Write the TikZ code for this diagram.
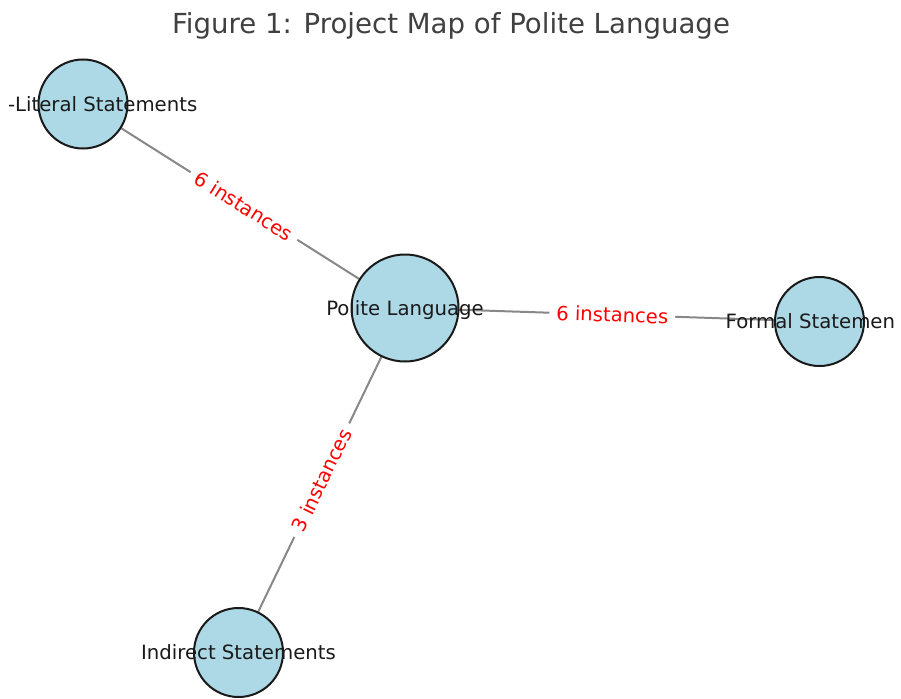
\documentclass[tikz,border=0pt]{standalone}
\usepackage{fontspec}
\setmainfont{DejaVu Sans}
\usetikzlibrary{backgrounds}
\definecolor{nodeblue}{HTML}{ADD8E6}
\definecolor{edgegray}{HTML}{888888}
\definecolor{titlegray}{HTML}{404040}
\definecolor{labelred}{HTML}{FF0000}
\definecolor{inkblack}{HTML}{1A1A1A}
\tikzset{
  topic/.style={circle, draw=inkblack, line width=2pt, fill=nodeblue, inner sep=0pt},
  bigtopic/.style={topic, minimum size=107pt},
  smalltopic/.style={topic, minimum size=89pt},
  nodetext/.style={font=\fontsize{19.7}{23}\selectfont, text=inkblack, inner sep=0pt, text height=14.4pt, text depth=0pt},
  link/.style={draw=edgegray, line width=2pt},
  countlabel/.style={font=\fontsize{19.6}{23}\selectfont, text=labelred, fill=white, inner xsep=7pt, inner ysep=5pt, text height=14.4pt, text depth=0pt, sloped, pos=0.5},
  titletext/.style={font=\fontsize{27.6}{32}\selectfont, text=titlegray, inner sep=0pt, anchor=base},
}
\begin{document}
\begin{tikzpicture}[x=1pt,y=-1pt]
\useasboundingbox (0,0) rectangle (901,698);
\clip (0,0) rectangle (901,698);
\node[titletext] (title) at (451,34) {Figure 1: Project Map of Polite Language};
\node[bigtopic] (polite) at (405,308) {};
\node[smalltopic] (nonliteral) at (83,104) {};
\node[smalltopic] (formal) at (819.5,321.5) {};
\node[smalltopic] (indirect) at (238.5,652.5) {};
\begin{pgfonlayer}{background}
\fill[white] (0,0) rectangle (901,698);
\draw[link] (nonliteral.center) -- node[countlabel] (l1) {6 instances} (polite.center);
\draw[link] (polite.center) -- node[countlabel] (l2) {6 instances} (formal.center);
\draw[link] (indirect.center) -- node[countlabel] (l3) {3 instances} (polite.center);
\end{pgfonlayer}
\node[nodetext] (politetext) at (405,308) {Polite Language};
\node[nodetext, anchor=east] (nonliteraltext) at (197.5,104) {-Literal Statements};
\node[nodetext, anchor=west] (formaltext) at (725.5,321.5) {Formal Statemen};
\node[nodetext] (indirecttext) at (238.5,652.5) {Indirect Statements};
\end{tikzpicture}
\end{document}
